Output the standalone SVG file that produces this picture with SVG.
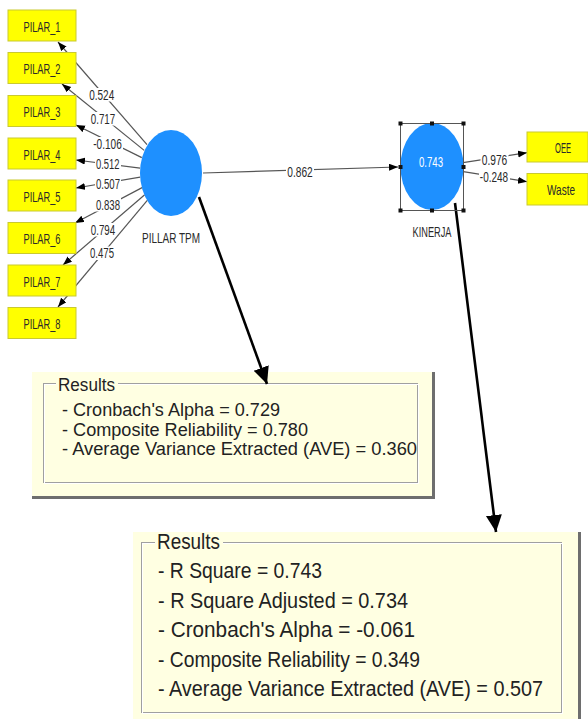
<svg xmlns="http://www.w3.org/2000/svg" width="588" height="719" viewBox="0 0 588 719">
<defs>
<marker id="ah" markerUnits="userSpaceOnUse" markerWidth="10" markerHeight="8" refX="9" refY="3.5" orient="auto">
<path d="M0,0 L9,3.5 L0,7 z" fill="#000"/>
</marker>
<marker id="bigah" markerUnits="userSpaceOnUse" markerWidth="18" markerHeight="17" refX="17" refY="8" orient="auto">
<path d="M0,0 L17,8 L0,16 z" fill="#000"/>
</marker>
</defs>
<style>
.ind rect{fill:#ffff00;stroke:#c9c930;stroke-width:1}
.ind text,.lbl text,.cap{font-family:"Liberation Sans",Arial,sans-serif;fill:#2a2a2a;font-size:15px}
.ind text{text-anchor:middle}
.lbl rect{fill:#fff}
.lbl text{text-anchor:middle;font-size:15px}
.ln{stroke:#555;stroke-width:1.2;fill:none}
.big{stroke:#000;stroke-width:2.6;fill:none}
.lv{fill:#1e90ff}
.panel{fill:#ffffe2}
.shadow{stroke:#6e6e6e;stroke-width:3;fill:none}
.etch1{fill:none;stroke:#a0a0a0;stroke-width:1}
.etch2{fill:none;stroke:#fff;stroke-width:1}
.res{font-family:"Liberation Sans",Arial,sans-serif;fill:#222}
.handle{fill:#111}
</style>

<g id="results-pillar">
<rect class="panel" x="32" y="372" width="401" height="124"/>
<path class="shadow" d="M433.5,372 V497.5 H32"/>
<rect class="etch1" x="43.5" y="383.5" width="374" height="99"/>
<rect class="etch2" x="44.5" y="384.5" width="374" height="99"/>
<rect class="panel" x="56" y="376" width="62" height="14"/>
<g class="res" font-size="18">
<text x="58" y="391" textLength="57" lengthAdjust="spacingAndGlyphs">Results</text>
<text x="62" y="416" textLength="218" lengthAdjust="spacingAndGlyphs">- Cronbach's Alpha = 0.729</text>
<text x="62" y="436" textLength="246" lengthAdjust="spacingAndGlyphs">- Composite Reliability = 0.780</text>
<text x="62" y="455" textLength="355" lengthAdjust="spacingAndGlyphs">- Average Variance Extracted (AVE) = 0.360</text>
</g>
</g>

<g id="results-kinerja">
<rect class="panel" x="133" y="532" width="446" height="187"/>
<path class="shadow" d="M579.5,532 V719"/>
<rect class="etch1" x="141.5" y="542.5" width="420" height="170"/>
<rect class="etch2" x="142.5" y="543.5" width="420" height="170"/>
<rect class="panel" x="155" y="534" width="68" height="16"/>
<g class="res" font-size="21.5">
<text x="157" y="549" textLength="63" lengthAdjust="spacingAndGlyphs">Results</text>
<text x="158" y="578" textLength="164" lengthAdjust="spacingAndGlyphs">- R Square = 0.743</text>
<text x="158" y="607.5" textLength="250" lengthAdjust="spacingAndGlyphs">- R Square Adjusted = 0.734</text>
<text x="158" y="637" textLength="257" lengthAdjust="spacingAndGlyphs">- Cronbach's Alpha = -0.061</text>
<text x="158" y="666.5" textLength="262" lengthAdjust="spacingAndGlyphs">- Composite Reliability = 0.349</text>
<text x="158" y="696" textLength="385" lengthAdjust="spacingAndGlyphs">- Average Variance Extracted (AVE) = 0.507</text>
</g>
</g>

<g id="connectors">
<line class="ln" x1="147" y1="144.6" x2="58" y2="42" marker-end="url(#ah)"/>
<line class="ln" x1="144.2" y1="150.4" x2="62" y2="84" marker-end="url(#ah)"/>
<line class="ln" x1="141.8" y1="157.6" x2="76" y2="125" marker-end="url(#ah)"/>
<line class="ln" x1="140.1" y1="168.1" x2="76" y2="160" marker-end="url(#ah)"/>
<line class="ln" x1="140.2" y1="177.2" x2="76" y2="188" marker-end="url(#ah)"/>
<line class="ln" x1="142.1" y1="187.6" x2="75" y2="223" marker-end="url(#ah)"/>
<line class="ln" x1="144.7" y1="194.7" x2="63" y2="265" marker-end="url(#ah)"/>
<line class="ln" x1="147.5" y1="200.1" x2="58" y2="307" marker-end="url(#ah)"/>
<line class="ln" x1="203" y1="173" x2="398" y2="167" marker-end="url(#ah)"/>
<line class="ln" x1="463" y1="162.7" x2="527" y2="152.7" marker-end="url(#ah)"/>
<line class="ln" x1="463.3" y1="171.7" x2="527" y2="181.7" marker-end="url(#ah)"/>
<line class="big" x1="199" y1="197" x2="267" y2="384" marker-end="url(#bigah)"/>
<line class="big" x1="455" y1="203" x2="496" y2="532" marker-end="url(#bigah)"/>
<g class="lbl">
<rect x="88" y="88" width="27" height="13.5"/><text x="101.7" y="100" textLength="25" lengthAdjust="spacingAndGlyphs">0.524</text>
<rect x="89.5" y="112" width="27" height="13.5"/><text x="103" y="124" textLength="24.5" lengthAdjust="spacingAndGlyphs">0.717</text>
<rect x="92" y="137" width="31" height="13.5"/><text x="107.5" y="149" textLength="28.5" lengthAdjust="spacingAndGlyphs">-0.106</text>
<rect x="95" y="157" width="26" height="13.5"/><text x="107.7" y="169" textLength="23.5" lengthAdjust="spacingAndGlyphs">0.512</text>
<rect x="95" y="176.5" width="26" height="13.5"/><text x="108" y="188.5" textLength="24" lengthAdjust="spacingAndGlyphs">0.507</text>
<rect x="95" y="198" width="26" height="13.5"/><text x="108" y="210" textLength="24" lengthAdjust="spacingAndGlyphs">0.838</text>
<rect x="90" y="223" width="26" height="13.5"/><text x="103" y="235" textLength="24.3" lengthAdjust="spacingAndGlyphs">0.794</text>
<rect x="89" y="246.5" width="26" height="13.5"/><text x="102" y="258.3" textLength="24" lengthAdjust="spacingAndGlyphs">0.475</text>
<rect x="286" y="164.5" width="28" height="13.5"/><text x="300" y="176.5" textLength="25.4" lengthAdjust="spacingAndGlyphs">0.862</text>
<rect x="480.5" y="153" width="28" height="13"/><text x="494.5" y="164.5" textLength="25.6" lengthAdjust="spacingAndGlyphs">0.976</text>
<rect x="479" y="170" width="31" height="13"/><text x="494" y="181.7" textLength="28.3" lengthAdjust="spacingAndGlyphs">-0.248</text>
</g>
</g>

<g id="pilar1" class="ind"><rect x="8" y="10" width="68" height="31"/><text x="42" y="31.5" textLength="37" lengthAdjust="spacingAndGlyphs">PILAR_1</text></g>
<g id="pilar2" class="ind"><rect x="8" y="52.5" width="68" height="31"/><text x="42" y="74" textLength="37" lengthAdjust="spacingAndGlyphs">PILAR_2</text></g>
<g id="pilar3" class="ind"><rect x="8" y="95.5" width="68" height="31"/><text x="42" y="117" textLength="37" lengthAdjust="spacingAndGlyphs">PILAR_3</text></g>
<g id="pilar4" class="ind"><rect x="8" y="138" width="68" height="31"/><text x="42" y="159.5" textLength="37" lengthAdjust="spacingAndGlyphs">PILAR_4</text></g>
<g id="pilar5" class="ind"><rect x="8" y="180" width="68" height="31"/><text x="42" y="201.5" textLength="37" lengthAdjust="spacingAndGlyphs">PILAR_5</text></g>
<g id="pilar6" class="ind"><rect x="8" y="222.5" width="68" height="31"/><text x="42" y="244" textLength="37" lengthAdjust="spacingAndGlyphs">PILAR_6</text></g>
<g id="pilar7" class="ind"><rect x="8" y="265" width="68" height="31"/><text x="42" y="286.5" textLength="37" lengthAdjust="spacingAndGlyphs">PILAR_7</text></g>
<g id="pilar8" class="ind"><rect x="8" y="307.5" width="68" height="31"/><text x="42" y="329" textLength="37" lengthAdjust="spacingAndGlyphs">PILAR_8</text></g>

<g id="pillar-tpm">
<ellipse class="lv" cx="171" cy="173" rx="31" ry="43"/>
<text class="cap" x="171" y="243" text-anchor="middle" textLength="58" lengthAdjust="spacingAndGlyphs">PILLAR TPM</text>
</g>

<g id="kinerja">
<ellipse class="lv" cx="432" cy="166.5" rx="31.5" ry="43.5"/>
<rect x="400.5" y="123.5" width="63" height="87" fill="none" stroke="#555" stroke-width="1"/>
<rect class="handle" x="398.5" y="121.5" width="4" height="4"/>
<rect class="handle" x="430" y="121.5" width="4" height="4"/>
<rect class="handle" x="461.5" y="121.5" width="4" height="4"/>
<rect class="handle" x="398.5" y="165" width="4" height="4"/>
<rect class="handle" x="461.5" y="165" width="4" height="4"/>
<rect class="handle" x="398.5" y="208.5" width="4" height="4"/>
<rect class="handle" x="430" y="208.5" width="4" height="4"/>
<rect class="handle" x="461.5" y="208.5" width="4" height="4"/>
<text x="431" y="167" text-anchor="middle" font-family="Liberation Sans, Arial, sans-serif" font-size="15" fill="#fff" textLength="24" lengthAdjust="spacingAndGlyphs">0.743</text>
<text class="cap" x="432" y="237" text-anchor="middle" textLength="39" lengthAdjust="spacingAndGlyphs">KINERJA</text>
</g>

<g id="oee" class="ind"><rect x="527" y="132" width="61" height="30"/><text x="563" y="152.7" textLength="16" lengthAdjust="spacingAndGlyphs">OEE</text></g>
<g id="waste" class="ind"><rect x="527" y="173.5" width="61" height="31.5"/><text x="561" y="195" font-size="14.5" textLength="28" lengthAdjust="spacingAndGlyphs">Waste</text></g>
</svg>
